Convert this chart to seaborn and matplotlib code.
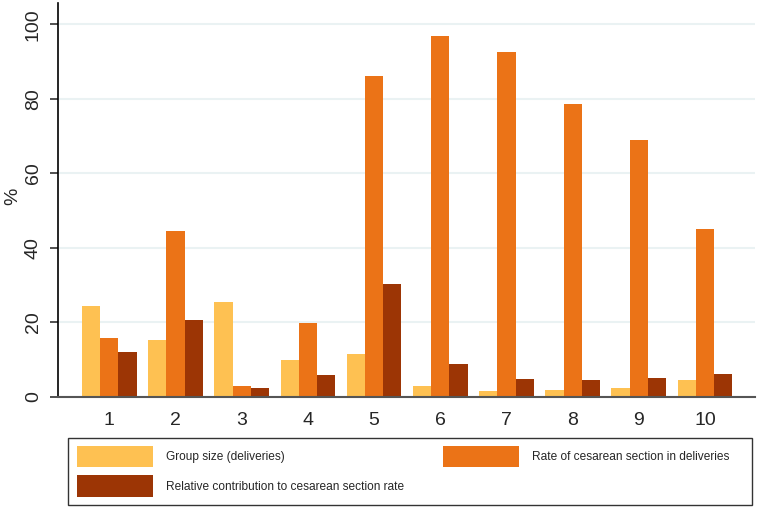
import numpy as np
import pandas as pd
import matplotlib.pyplot as plt
import seaborn as sns
from matplotlib.patches import Patch, Rectangle

grupos = ['1', '2', '3', '4', '5', '6', '7', '8', '9', '10']
tamanho_grupo = [24.5, 15.4, 25.4, 9.8, 11.5, 2.9, 1.6, 1.9, 2.4, 4.6]
taxa_cesarea = [15.9, 44.4, 3.0, 19.8, 86.0, 96.8, 92.5, 78.5, 68.9, 45.0]
contribuicao = [12.0, 20.7, 2.3, 5.9, 30.2, 8.8, 4.7, 4.5, 5.0, 6.1]

series = ['Group size (deliveries)',
          'Rate of cesarean section in deliveries',
          'Relative contribution to cesarean section rate']
cores = ['#FEC152', '#EB7317', '#9C3505']

df = pd.DataFrame({
    'grupo': grupos * 3,
    'valor': tamanho_grupo + taxa_cesarea + contribuicao,
    'serie': np.repeat(series, len(grupos)),
})

sns.set_style('white')
plt.rcParams['font.family'] = ['Liberation Sans', 'DejaVu Sans']

fig = plt.figure(figsize=(7.61, 5.15), dpi=100)
ax = fig.add_axes([58 / 761, 1 - 397 / 515, (755 - 58) / 761, 394 / 515])

sns.barplot(data=df, x='grupo', y='valor', hue='serie', palette=cores,
            width=0.826, saturation=1, gap=0, ax=ax, legend=False,
            edgecolor='none', linewidth=0)

ax.set_xlim(-0.775, 9.755)
ax.set_ylim(0, 105.7)
ax.set_yticks([0, 20, 40, 60, 80, 100])
ax.grid(axis='y', color='#eaf2f3', linewidth=1.5)
ax.set_axisbelow(True)
for lado in ['top', 'right']:
    ax.spines[lado].set_visible(False)
ax.spines['left'].set_color('black')
ax.spines['left'].set_linewidth(1.2)
ax.spines['bottom'].set_color('#555555')
ax.spines['bottom'].set_linewidth(1.5)
ax.tick_params(axis='y', length=5.8, width=1.2, color='#333333', labelsize=14,
               labelrotation=90, pad=5.8, left=True)
ax.tick_params(axis='x', length=0, labelsize=14, pad=11)
for t in ax.get_yticklabels():
    t.set_va('center')
ax.set_xlabel('')
ax.set_ylabel('%', fontsize=14)
ax.yaxis.set_label_coords(-0.053, 0.51)

handles = [Patch(facecolor=c, edgecolor='none') for c in cores]
fig.legend([handles[0], handles[2], handles[1]],
           [series[0], series[2], series[1]],
           ncol=2, loc='upper left', bbox_to_anchor=(77 / 761, 1 - 446 / 515),
           frameon=False, borderpad=0, borderaxespad=0, fontsize=8.6,
           handlelength=6.4, handleheight=2.34, handletextpad=1.09,
           labelspacing=0.7, columnspacing=3.2)
fig.patches.append(Rectangle((68 / 761, 1 - 505 / 515), 684 / 761, 67.5 / 515,
                             transform=fig.transFigure, fill=False,
                             edgecolor='#333333', linewidth=1))

fig.savefig('out.png', dpi=100)
